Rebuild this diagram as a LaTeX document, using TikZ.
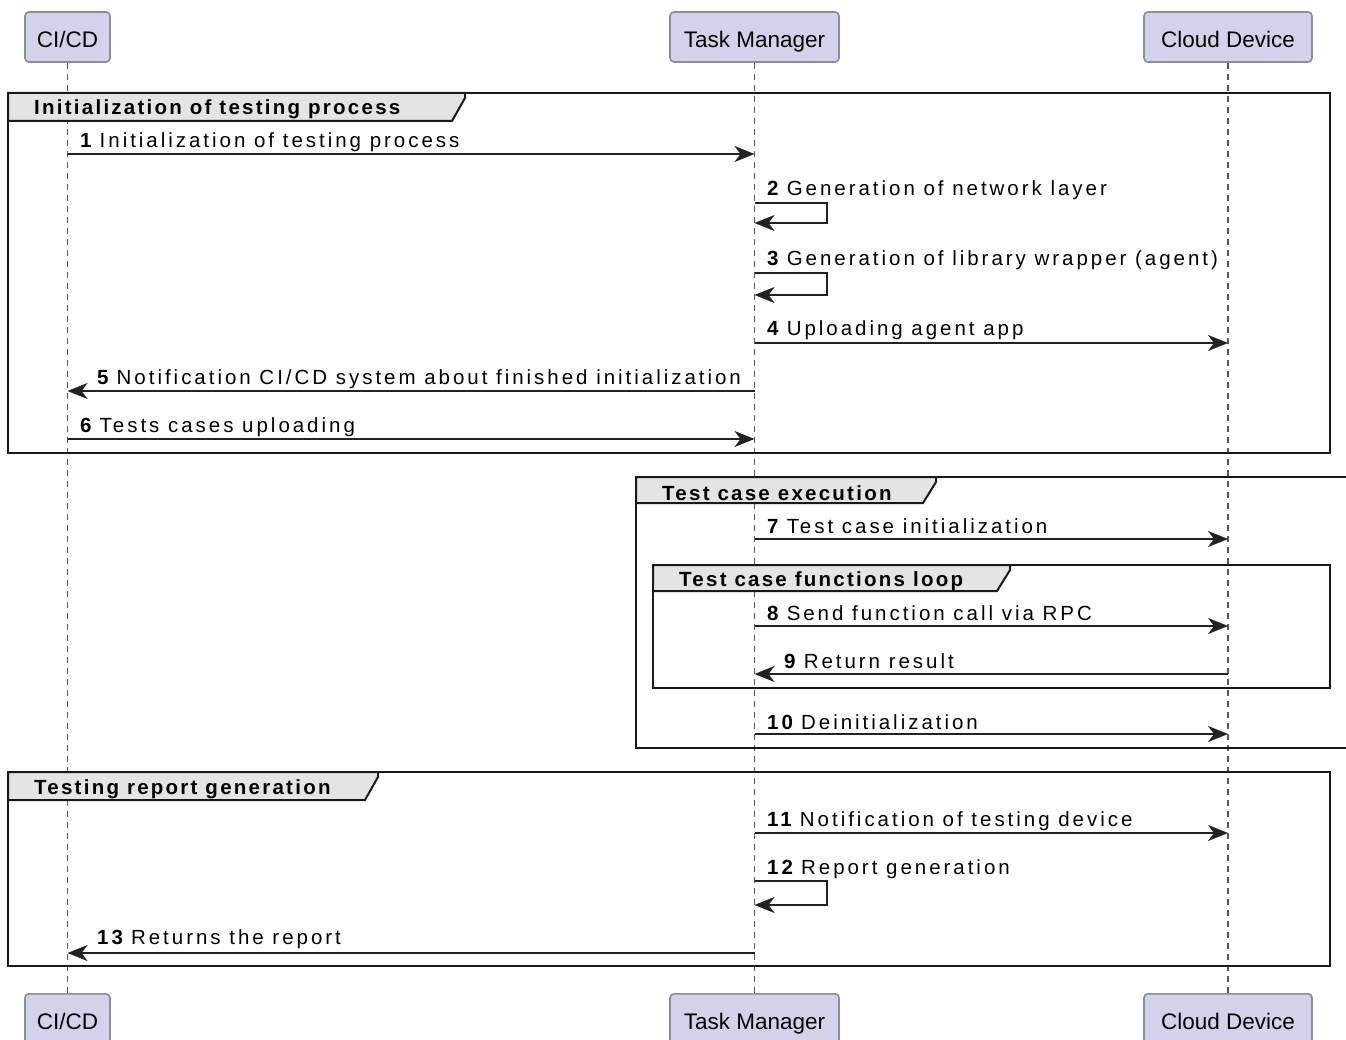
\documentclass[tikz,border=0pt]{standalone}
\usepackage{fontspec}
\setmainfont{Liberation Sans}
\newfontfamily\msgfont[LetterSpace=14.5]{Liberation Sans}
\newfontfamily\hdrfont[LetterSpace=11]{Liberation Sans}
\usetikzlibrary{arrows.meta}
\definecolor{partfill}{HTML}{D2D2EA}
\definecolor{partdraw}{HTML}{8C8C9C}
\definecolor{hdrfill}{HTML}{E4E4E4}
\definecolor{msgcol}{HTML}{222222}
\newcommand{\nm}[1]{\textbf{#1}\hspace{-3.5pt}}
\tikzset{
  part/.style={draw=partdraw, fill=partfill, line width=1.6pt, rounded corners=4pt,
    minimum height=50pt, inner sep=0pt, text height=27pt, text depth=5pt,
    font=\fontsize{22.5}{26}\selectfont},
  lifeline/.style={draw=black!65, line width=1.2pt, dash pattern=on 6pt off 5pt},
  msg/.style={draw=msgcol, line width=2pt, -{Stealth[length=20pt,width=16pt,inset=6pt]}},
  msglbl/.style={anchor=west, inner sep=0pt, font=\fontsize{20.5}{24}\msgfont, text=black},
  grp/.style={draw=black!90, line width=2.6pt},
  tab/.style={draw=black!90, line width=2pt, fill=hdrfill},
  tablbl/.style={anchor=west, inner sep=0pt, font=\fontsize{20.5}{24}\hdrfont\bfseries},
}
\begin{document}
\begin{tikzpicture}[x=1pt,y=-1pt]
\useasboundingbox (0,0) rectangle (1346,1040);
\fill[white] (0,0) rectangle (1346,1040);

% participants
\node[part, minimum width=85pt] (ci) at (67.5,37) {CI/CD};
\node[part, minimum width=169pt] (tm) at (754.5,37) {Task Manager};
\node[part, minimum width=168pt] (cd) at (1228,37) {Cloud Device};
\node[part, minimum width=85pt, anchor=north] (cib) at (67.5,993) {CI/CD};
\node[part, minimum width=169pt, anchor=north] (tmb) at (754.5,993) {Task Manager};
\node[part, minimum width=168pt, anchor=north] (cdb) at (1228,993) {Cloud Device};

% lifelines
\draw[lifeline] (ci.south) -- (cib.north);
\draw[lifeline] (tm.south) -- (tmb.north);
\draw[lifeline] (cd.south) -- (cdb.north);

% group 1
\draw[grp] (8,93) rectangle (1330,453);
\draw[tab] (8,93) -- (465,93) -- (465,98) -- (452,121) -- (8,121) -- cycle;
\node[tablbl] (g1) at (34,109) {Initialization of testing process};

% group 2
\draw[grp] (636,477) rectangle (1347.5,748);
\draw[tab] (636,477) -- (936,477) -- (936,482) -- (923,503) -- (636,503) -- cycle;
\node[tablbl] (g2) at (662,493) {Test case execution};

% group 3
\draw[grp] (653,565) rectangle (1330,688);
\draw[tab] (653,565) -- (1010,565) -- (1010,570) -- (997,591) -- (653,591) -- cycle;
\node[tablbl] (g3) at (679,581) {Test case functions loop};

% group 4
\draw[grp] (8,772) rectangle (1330,966);
\draw[tab] (8,772) -- (378,772) -- (378,777) -- (365,800) -- (8,800) -- cycle;
\node[tablbl] (g4) at (34,789) {Testing report generation};

% messages
\draw[msg] (ci |- 0,154) -- (tm |- 0,154);
\node[msglbl] (l1) at (80,142) {\nm{1} Initialization of testing process};

\draw[msg] (tm |- 0,203) -- (827,203) -- (827,223) -- (tm |- 0,223);
\node[msglbl] (l2) at (767,190) {\nm{2} Generation of network layer};

\draw[msg] (tm |- 0,273) -- (827,273) -- (827,295) -- (tm |- 0,295);
\node[msglbl] (l3) at (767,260) {\nm{3} Generation of library wrapper (agent)};

\draw[msg] (tm |- 0,343) -- (cd |- 0,343);
\node[msglbl] (l4) at (767,330) {\nm{4} Uploading agent app};

\draw[msg] (tm |- 0,391) -- (ci |- 0,391);
\node[msglbl] (l5) at (97,379) {\nm{5} Notification CI/CD system about finished initialization};

\draw[msg] (ci |- 0,439) -- (tm |- 0,439);
\node[msglbl] (l6) at (80,427) {\nm{6} Tests cases uploading};

\draw[msg] (tm |- 0,539) -- (cd |- 0,539);
\node[msglbl] (l7) at (767,526) {\nm{7} Test case initialization};

\draw[msg] (tm |- 0,626) -- (cd |- 0,626);
\node[msglbl] (l8) at (767,613) {\nm{8} Send function call via RPC};

\draw[msg] (cd |- 0,674) -- (tm |- 0,674);
\node[msglbl] (l9) at (784,661) {\nm{9} Return result};

\draw[msg] (tm |- 0,734) -- (cd |- 0,734);
\node[msglbl] (l10) at (767,722) {\nm{10} Deinitialization};

\draw[msg] (tm |- 0,833) -- (cd |- 0,833);
\node[msglbl] (l11) at (767,821) {\nm{11} Notification of testing device};

\draw[msg] (tm |- 0,881) -- (827,881) -- (827,905) -- (tm |- 0,905);
\node[msglbl] (l12) at (767,869) {\nm{12} Report generation};

\draw[msg] (tm |- 0,953) -- (ci |- 0,953);
\node[msglbl] (l13) at (97,939) {\nm{13} Returns the report};
\end{tikzpicture}
\end{document}
